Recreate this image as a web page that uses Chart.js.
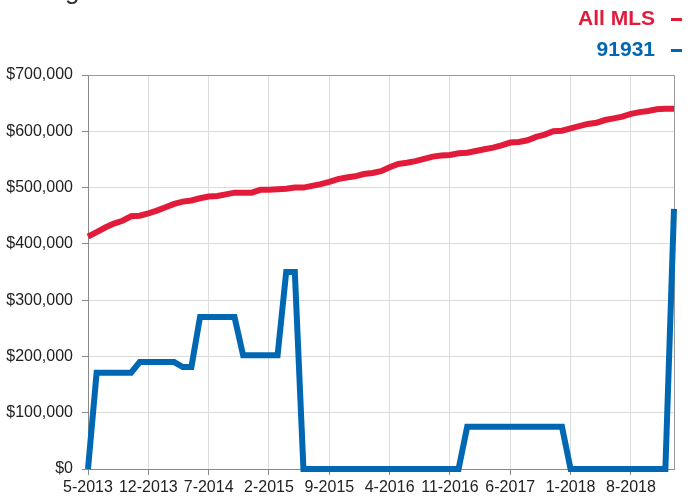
<!DOCTYPE html>
<html lang="en">
<head>
    <meta charset="UTF-8">
    <title>All MLS vs 91931</title>
    <script src="https://cdn.jsdelivr.net/npm/chart.js"></script>
    <style>
        body { margin: 0; background: #fff; }
        #wrap { width: 690px; height: 497px; }
    </style>
</head>
<body>
<div id="wrap">
    <canvas id="priceChart" width="690" height="497"></canvas>
</div>
<script>
    // months 5-2013 .. 1-2019
    const months = [
        '5-2013', '6-2013', '7-2013', '8-2013', '9-2013', '10-2013', '11-2013', '12-2013',
        '1-2014', '2-2014', '3-2014', '4-2014', '5-2014', '6-2014', '7-2014', '8-2014',
        '9-2014', '10-2014', '11-2014', '12-2014', '1-2015', '2-2015', '3-2015', '4-2015',
        '5-2015', '6-2015', '7-2015', '8-2015', '9-2015', '10-2015', '11-2015', '12-2015',
        '1-2016', '2-2016', '3-2016', '4-2016', '5-2016', '6-2016', '7-2016', '8-2016',
        '9-2016', '10-2016', '11-2016', '12-2016', '1-2017', '2-2017', '3-2017', '4-2017',
        '5-2017', '6-2017', '7-2017', '8-2017', '9-2017', '10-2017', '11-2017', '12-2017',
        '1-2018', '2-2018', '3-2018', '4-2018', '5-2018', '6-2018', '7-2018', '8-2018',
        '9-2018', '10-2018', '11-2018', '12-2018', '1-2019'
    ];

    const allMls = [
        413000, 421000, 429000, 436000, 441000, 449000, 450000, 454000,
        459000, 465000, 471000, 475000, 477000, 481000, 484000, 485000,
        488000, 491000, 491000, 491000, 496000, 496000, 497000, 498000,
        500000, 500000, 503000, 506000, 510000, 515000, 518000, 520000,
        524000, 526000, 529000, 536000, 542000, 544000, 547000, 551000,
        555000, 557000, 558000, 561000, 562000, 565000, 568000, 571000,
        575000, 580000, 581000, 584000, 590000, 594000, 600000, 601000,
        605000, 609000, 613000, 615000, 620000, 623000, 626000, 631000,
        634000, 636000, 639000, 640000, 640000
    ];

    const zip91931 = [
        0, 171000, 171000, 171000, 171000, 171000, 190000, 190000,
        190000, 190000, 190000, 181000, 181000, 270000, 270000, 270000,
        270000, 270000, 202000, 202000, 202000, 202000, 202000, 350000,
        350000, 0, 0, 0, 0, 0, 0, 0,
        0, 0, 0, 0, 0, 0, 0, 0,
        0, 0, 0, 0, 75000, 75000, 75000, 75000,
        75000, 75000, 75000, 75000, 75000, 75000, 75000, 75000,
        0, 0, 0, 0, 0, 0, 0, 0,
        0, 0, 0, 0, 462000
    ];

    const seriesNames = ['All MLS', '91931'];
    const seriesColors = ['#e31b3b', '#0068b3'];
    const yTicks = [0, 100000, 200000, 300000, 400000, 500000, 600000, 700000];
    const labelEvery = 7;
    const chartTitle = 'Rolling 12 Month Calculation';

    const fontFamily = '"Liberation Sans", Arial, Helvetica, sans-serif';

    // grey frame on top and right of the plot area
    const framePlugin = {
        id: 'frame',
        beforeDatasetsDraw(chart) {
            const a = chart.chartArea;
            const ctx = chart.ctx;
            ctx.save();
            ctx.strokeStyle = '#999';
            ctx.lineWidth = 1;
            ctx.beginPath();
            ctx.moveTo(a.left, a.top + 0.5);
            ctx.lineTo(a.right + 0.5, a.top + 0.5);
            ctx.lineTo(a.right + 0.5, a.bottom);
            ctx.stroke();
            ctx.restore();
        }
    };

    // legend in the top right corner: name then a short dash
    const legendPlugin = {
        id: 'cornerLegend',
        afterDraw(chart) {
            const ctx = chart.ctx;
            ctx.save();
            ctx.font = 'bold 21px ' + fontFamily;
            ctx.textAlign = 'right';
            ctx.textBaseline = 'alphabetic';
            chart.data.datasets.forEach((ds, i) => {
                const base = 25 + i * 31;
                ctx.fillStyle = ds.borderColor;
                ctx.fillText(ds.label, 655, base);
                ctx.fillRect(671, base - 7, 11, 3);
            });
            // title sits above the visible area, only its descenders show
            ctx.font = '26px ' + fontFamily;
            ctx.textAlign = 'left';
            ctx.fillStyle = '#333';
            ctx.fillText(chartTitle, 0, -1);
            ctx.restore();
        }
    };

    const ctx = document.getElementById('priceChart').getContext('2d');
    new Chart(ctx, {
        type: 'line',
        data: {
            labels: months,
            datasets: [
                {
                    label: seriesNames[0],
                    data: allMls,
                    borderColor: seriesColors[0],
                    backgroundColor: seriesColors[0],
                    borderWidth: 6,
                    pointRadius: 0,
                    tension: 0,
                    clip: 8
                },
                {
                    label: seriesNames[1],
                    data: zip91931,
                    borderColor: seriesColors[1],
                    backgroundColor: seriesColors[1],
                    borderWidth: 6,
                    pointRadius: 0,
                    tension: 0,
                    clip: 8
                }
            ]
        },
        options: {
            responsive: false,
            animation: false,
            layout: { padding: { top: 75, right: 16, left: 0, bottom: 0 } },
            plugins: {
                legend: { display: false },
                tooltip: { enabled: false }
            },
            scales: {
                x: {
                    grid: { color: '#dcdcdc', tickColor: '#888', tickLength: 6 },
                    border: { color: '#888' },
                    ticks: {
                        autoSkip: false,
                        maxRotation: 0,
                        padding: 3,
                        color: '#222',
                        font: { family: fontFamily, size: 16 },
                        callback: function(val, idx) {
                            return idx % labelEvery === 0 ? months[idx] : null;
                        }
                    },
                    afterFit: function(scale) { scale.height = 28; }
                },
                y: {
                    min: yTicks[0],
                    max: yTicks[yTicks.length - 1],
                    grid: { color: '#dcdcdc', tickColor: '#888', tickLength: 6 },
                    border: { color: '#888' },
                    afterBuildTicks: function(scale) {
                        scale.ticks = yTicks.map(v => ({ value: v }));
                    },
                    ticks: {
                        padding: 9,
                        color: '#222',
                        font: { family: fontFamily, size: 16 },
                        callback: function(val) {
                            return '$' + Number(val).toLocaleString('en-US');
                        }
                    },
                    afterFit: function(scale) { scale.width = 88; }
                }
            }
        },
        plugins: [framePlugin, legendPlugin]
    });
</script>
</body>
</html>
